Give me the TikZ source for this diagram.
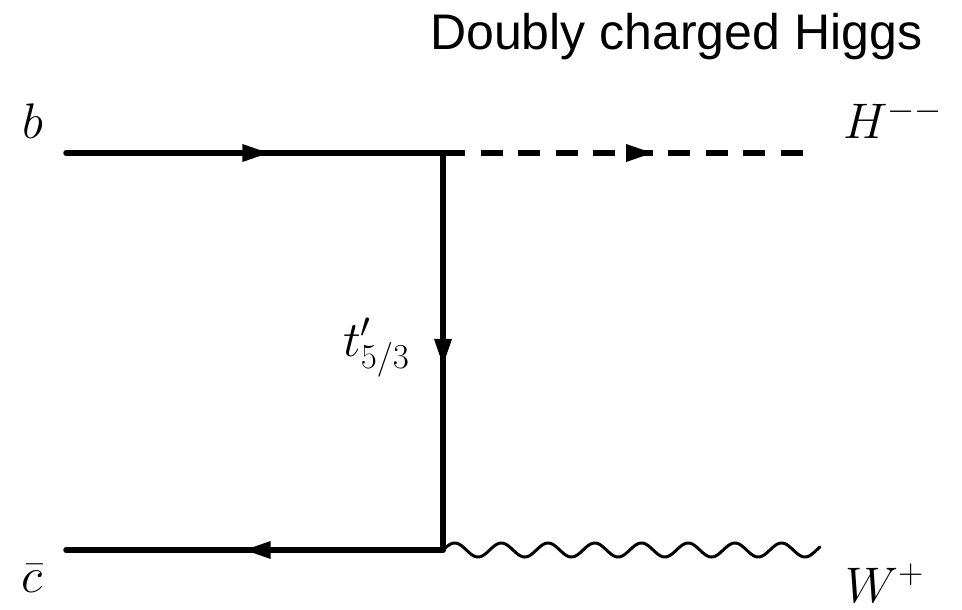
\RequirePackage{fix-cm}
\documentclass[tikz,border=0pt]{standalone}
\usepackage{fontspec}
\newfontfamily\titlefont{Liberation Sans}
\usetikzlibrary{decorations.markings}
\begin{document}
\begin{tikzpicture}[x=1pt,y=-1pt,
  fermion/.style={line width=5.5pt, line cap=round},
  scalarline/.style={line width=5.5pt, dash pattern=on 22pt off 15.5pt},
  bosonline/.style={line width=3pt, line cap=round},
  arrowat/.style={postaction={decorate}, decoration={markings, mark=at position #1 with {\fill[solid] (0,0) -- (-26pt,9pt) -- (-26pt,-9pt) -- cycle;}}},
  lbl/.style={inner sep=0pt, font=\fontsize{50}{60}\selectfont},
  titlestyle/.style={inner sep=0pt, anchor=base west, font=\titlefont\fontsize{50}{60}\selectfont}
]
\useasboundingbox (0,0) rectangle (962,610);
% vertices and free ends
\coordinate (bl) at (66,153);
\coordinate (v1) at (443,153);
\coordinate (hr) at (803,153);
\coordinate (cl) at (66,550);
\coordinate (v2) at (443,550);
\coordinate (wr) at (820,550);
% labels
\node[titlestyle] (title) at (430,50) {Doubly charged Higgs};
\node[lbl, anchor=base] (b) at (32.5,139) {$b$};
\node[lbl, anchor=base] (cbar) at (32.5,592) {$\bar{c}$};
\node[lbl, anchor=base west] (Hm) at (843,139) {$H^{--}$};
\node[lbl, anchor=base west] (Wp) at (845,602) {$W^{+}$};
\node[lbl, anchor=base west] (tp) at (343,356) {$t'_{5/3}$};
% propagators
\draw[fermion, arrowat=0.537] (bl) -- (v1);
\draw[fermion, arrowat=0.534] (v1) -- (v2);
\draw[fermion, arrowat=0.526] (v2) -- (cl);
\draw[scalarline, arrowat=0.581] (v1) -- (hr);
% W boson: wave from v2 to wr
\draw[bosonline, shift={(v2)}] plot[domain=0:377, samples=320, smooth] (\x, {-7*sin(\x/46.7*360)});
\end{tikzpicture}
\end{document}
